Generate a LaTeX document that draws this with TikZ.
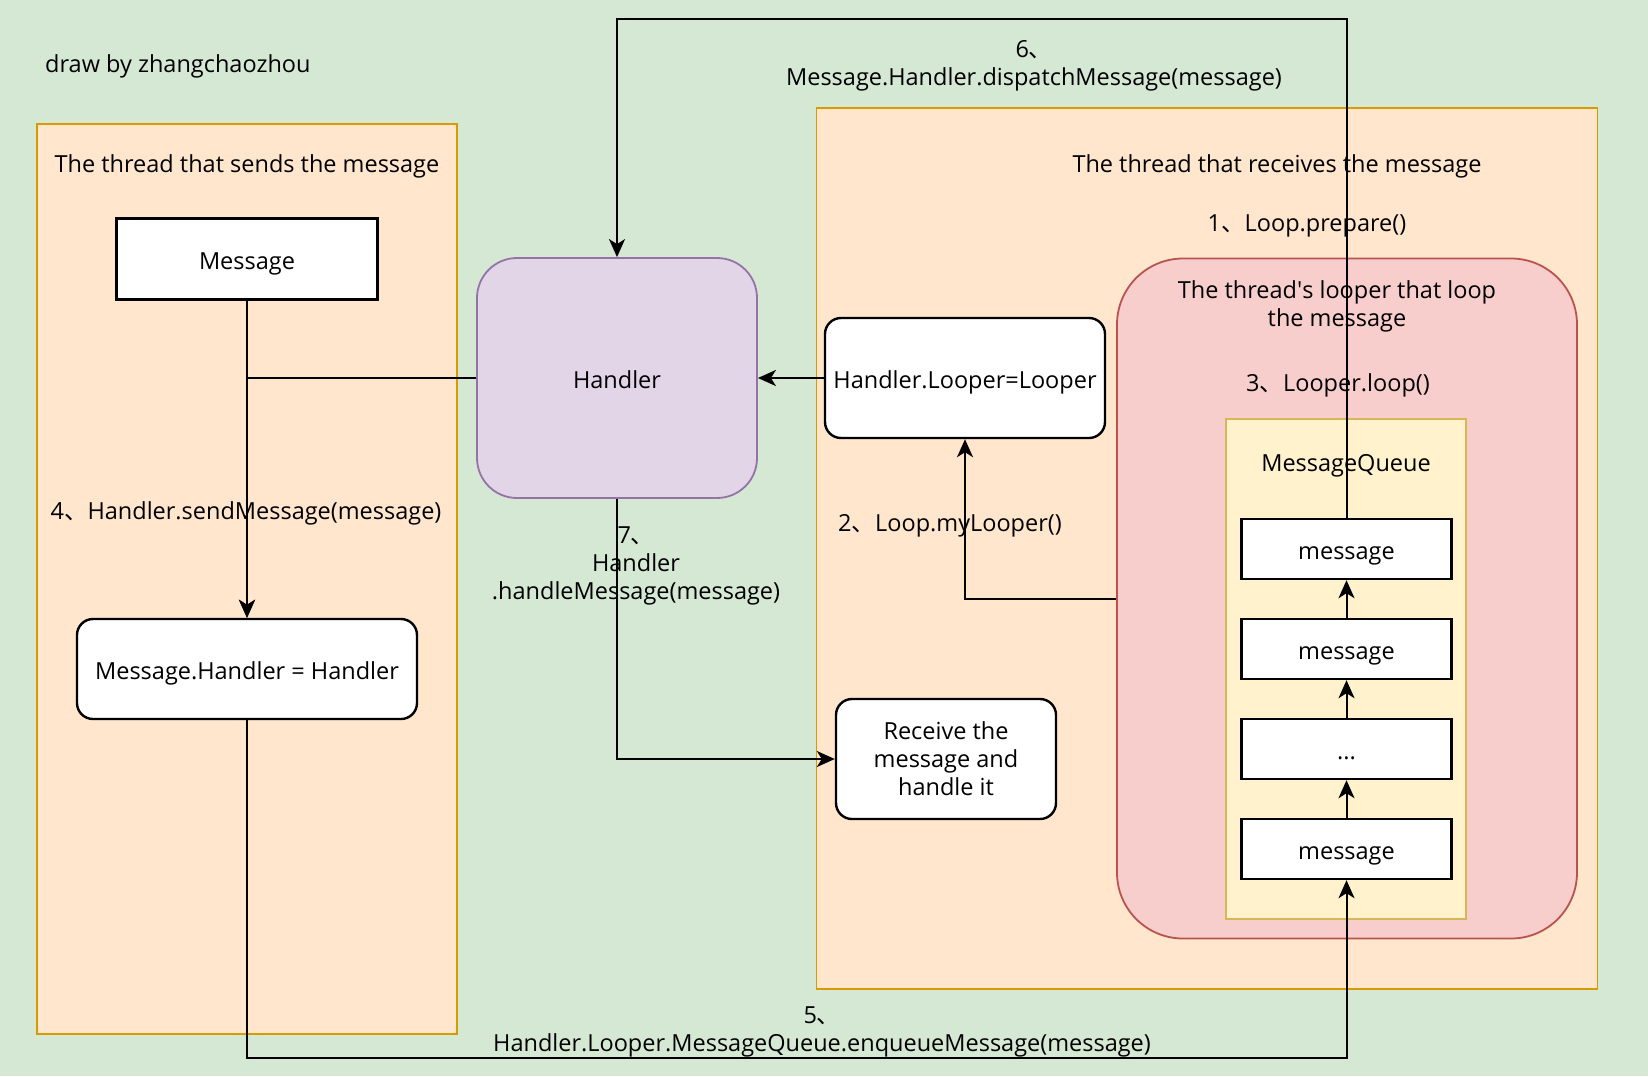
\documentclass[tikz,border=0pt]{standalone}
\usepackage{fontspec}
\setmainfont{Open Sans}
\newfontfamily\cjkfont{Noto Sans CJK SC}
\usetikzlibrary{arrows.meta,positioning}
\newcommand\dunhao{{\cjkfont 、}}

\begin{document}
\begin{tikzpicture}[
    x=1pt, y=-1pt,
    font=\fontsize{23.5}{28}\selectfont,
    >={Stealth[length=18pt,width=16pt,inset=5pt]},
    lane/.style={
        draw=laneline,
        fill=lanefill,
        line width=1.8pt,
        inner sep=0pt
    },
    box/.style={
        draw,
        fill=white,
        line width=2.4pt,
        align=center,
        inner sep=0pt
    },
    oneline/.style={
        text height=25.5pt,
        text depth=5.5pt
    },
    roundbox/.style={
        box,
        rounded corners=16pt
    },
    msgbox/.style={
        box, oneline,
        minimum width=210pt,
        minimum height=60pt
    },
    note/.style={
        align=center,
        inner sep=0pt,
        yshift=-4pt
    },
    flow/.style={
        ->,
        line width=2pt
    }
]

\definecolor{bggreen}{HTML}{D5E8D4}
\definecolor{lanefill}{HTML}{FFE6CC}
\definecolor{laneline}{HTML}{D79B00}
\definecolor{handlerfill}{HTML}{E1D5E7}
\definecolor{handlerline}{HTML}{9673A6}
\definecolor{looperfill}{HTML}{F8CECC}
\definecolor{looperline}{HTML}{B85450}
\definecolor{queuefill}{HTML}{FFF2CC}
\definecolor{queueline}{HTML}{D6B656}

\fill[bggreen] (0,0) rectangle (1648,1076);
\useasboundingbox (0,0) rectangle (1648,1076);

\node[note, anchor=west] (author) at (45,62) {draw by zhangchaozhou};

% sending thread
\node[lane, minimum width=420pt, minimum height=910pt] (sender) at (247,579) {};
\node[note] (sendertitle) at (247,162) {The thread that sends the message};
\node[box, oneline, minimum width=261pt, minimum height=81pt] (msg) at (247,259) {Message};
\node[roundbox, oneline, minimum width=340pt, minimum height=100pt] (msgset) at (247,669) {Message.Handler = Handler};
\node[note] (step4) at (246,509) {4\dunhao Handler.sendMessage(message)};

% handler
\node[box, oneline, draw=handlerline, fill=handlerfill, line width=1.8pt, rounded corners=40pt,
      minimum width=280pt, minimum height=240pt] (handler) at (617,378) {Handler};

% receiving thread
\node[lane, minimum width=781pt, minimum height=881pt] (receiver) at (1207,548.5) {};
\node[note] (receivertitle) at (1277,162) {The thread that receives the message};
\node[note] (step1) at (1307,222) {1\dunhao Loop.prepare()};
\node[roundbox, oneline, minimum width=280pt, minimum height=120pt] (looperset) at (965,378) {Handler.Looper=Looper};
\node[note] (step2) at (950,522) {2\dunhao Loop.myLooper()};
\node[roundbox, minimum width=220pt, minimum height=120pt] (receive) at (946,759) {Receive the\\message and\\handle it};

% looper and its queue
\node[box, draw=looperline, fill=looperfill, line width=1.8pt, rounded corners=66pt,
      minimum width=460pt, minimum height=680pt] (looper) at (1347,598.5) {};
\node[note] (loopertitle) at (1337,302) {The thread\textquotesingle s looper that loop\\the message};
\node[note] (step3) at (1338,381.5) {3\dunhao Looper.loop()};
\node[box, draw=queueline, fill=queuefill, line width=1.8pt,
      minimum width=240pt, minimum height=500pt] (queue) at (1346,669) {};
\node[note] (queuetitle) at (1346,462) {MessageQueue};
\node[msgbox] (m1) at (1346.5,549) {message};
\node[msgbox, below=37.6pt of m1] (m2) {message};
\node[msgbox, below=37.6pt of m2] (m3) {...};
\node[msgbox, below=37.6pt of m3] (m4) {message};

\draw[flow] (m4.north) -- (m3.south);
\draw[flow] (m3.north) -- (m2.south);
\draw[flow] (m2.north) -- (m1.south);

% message flow
\draw[flow] (msg.south) -- (msgset.north);
\draw[flow] (handler.west) -| (msgset.north);
\draw[flow] (looperset.west) -- (handler.east);
\draw[flow] (looper.west) -| (looperset.south);
\draw[flow] (handler.south) |- (receive.west);

\coordinate (top6) at (0,19);
\draw[flow] (m1.north) -- (m1.north |- top6) -| (handler.north);
\node[note] (step6) at (1034,62) {6\dunhao\\Message.Handler.dispatchMessage(message)};

\coordinate (bottom5) at (0,1058);
\draw[flow] (msgset.south) -- (msgset.south |- bottom5) -| (m4.south);
\node[note] (step5) at (822,1028) {5\dunhao\\Handler.Looper.MessageQueue.enqueueMessage(message)};

\node[note] (step7) at (636,562) {7\dunhao\\Handler\\.handleMessage(message)};

\end{tikzpicture}
\end{document}
